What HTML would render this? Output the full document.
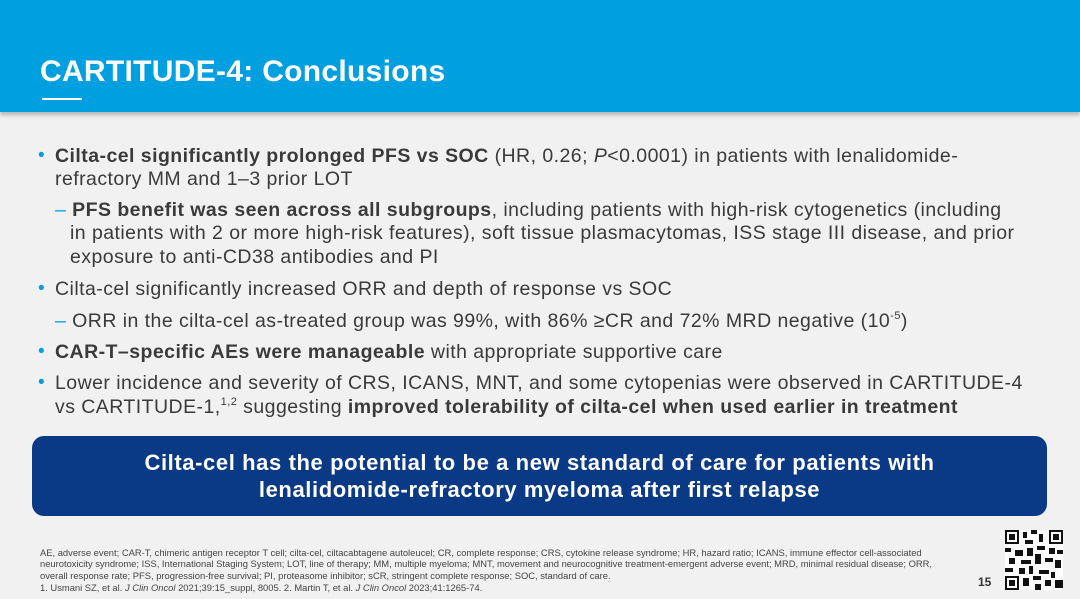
<!DOCTYPE html>
<html><head><meta charset="utf-8"><style>
*{margin:0;padding:0;box-sizing:border-box}
body{width:1080px;height:599px;overflow:hidden;background:#f1f1f1;font-family:"Liberation Sans",sans-serif;color:#3a3a3a;position:relative}
#hdr{position:absolute;left:0;top:0;width:1080px;height:112px;background:#009fdf;box-shadow:0 3px 4px rgba(0,0,0,0.25)}
#title{position:absolute;left:40px;top:55px;font-size:30px;font-weight:bold;color:#fff;letter-spacing:0.3px}
#uline{position:absolute;left:42px;top:98px;width:40px;height:2px;background:#fff}
.l{position:absolute;white-space:nowrap;font-size:19.5px;line-height:23px;letter-spacing:0.45px}
.b{color:#009fdf;position:absolute;font-size:19px}
sup{font-size:11px;line-height:0;position:relative;top:-1px}
#box{position:absolute;left:32px;top:436px;width:1015px;height:80px;background:#0a3a86;border-radius:12px;color:#fff;font-weight:bold;font-size:22px;letter-spacing:0.6px;line-height:27px;text-align:center;padding-top:13px}
.f{position:absolute;left:40px;white-space:nowrap;font-size:9.4px;color:#444}
#pg{position:absolute;left:978px;top:575px;font-size:12px;font-weight:bold;color:#333}
#qr{position:absolute;left:1005px;top:530px}
</style></head><body>
<div id="hdr"></div>
<div id="title">CARTITUDE-4: Conclusions</div>
<div id="uline"></div>

<div class="b" style="left:38px;top:145px">•</div>
<div class="l" style="left:55px;top:145px"><b>Cilta-cel significantly prolonged PFS vs SOC</b> (HR, 0.26; <i>P</i>&lt;0.0001) in patients with lenalidomide-</div>
<div class="l" style="left:55px;top:168px">refractory MM and 1–3 prior LOT</div>
<div class="l" style="left:55px;top:199px"><span style="color:#009fdf">–</span> <b>PFS benefit was seen across all subgroups</b>, including patients with high-risk cytogenetics (including</div>
<div class="l" style="left:70px;top:222px">in patients with 2 or more high-risk features), soft tissue plasmacytomas, ISS stage III disease, and prior</div>
<div class="l" style="left:70px;top:246px">exposure to anti-CD38 antibodies and PI</div>
<div class="b" style="left:38px;top:278px">•</div>
<div class="l" style="left:55px;top:278px">Cilta-cel significantly increased ORR and depth of response vs SOC</div>
<div class="l" style="left:55px;top:310px"><span style="color:#009fdf">–</span> ORR in the cilta-cel as-treated group was 99%, with 86% ≥CR and 72% MRD negative (10<sup>-5</sup>)</div>
<div class="b" style="left:38px;top:341px">•</div>
<div class="l" style="left:55px;top:341px"><b>CAR-T–specific AEs were manageable</b> with appropriate supportive care</div>
<div class="b" style="left:38px;top:372px">•</div>
<div class="l" style="left:55px;top:372px">Lower incidence and severity of CRS, ICANS, MNT, and some cytopenias were observed in CARTITUDE-4</div>
<div class="l" style="left:55px;top:396px">vs CARTITUDE-1,<sup>1,2</sup> suggesting <b>improved tolerability of cilta-cel when used earlier in treatment</b></div>

<div id="box">Cilta-cel has the potential to be a new standard of care for patients with<br>lenalidomide-refractory myeloma after first relapse</div>

<div class="f" style="top:547px">AE, adverse event; CAR-T, chimeric antigen receptor T cell; cilta-cel, ciltacabtagene autoleucel; CR, complete response; CRS, cytokine release syndrome; HR, hazard ratio; ICANS, immune effector cell-associated</div>
<div class="f" style="top:558px">neurotoxicity syndrome; ISS, International Staging System; LOT, line of therapy; MM, multiple myeloma; MNT, movement and neurocognitive treatment-emergent adverse event; MRD, minimal residual disease; ORR,</div>
<div class="f" style="top:570px">overall response rate; PFS, progression-free survival; PI, proteasome inhibitor; sCR, stringent complete response; SOC, standard of care.</div>
<div class="f" style="top:582px">1. Usmani SZ, et al. <i>J Clin Oncol</i> 2021;39:15_suppl, 8005. 2. Martin T, et al. <i>J Clin Oncol</i> 2023;41:1265-74.</div>
<div id="pg">15</div>
<svg id="qr" width="58" height="60" viewBox="0 0 29 30">
<rect width="29" height="30" fill="#fff"/>
<g fill="#111">
<rect x="0" y="0" width="7" height="7"/><rect x="1" y="1" width="5" height="5" fill="#fff"/><rect x="2" y="2" width="3" height="3"/>
<rect x="22" y="0" width="7" height="7"/><rect x="23" y="1" width="5" height="5" fill="#fff"/><rect x="24" y="2" width="3" height="3"/>
<rect x="0" y="23" width="7" height="7"/><rect x="1" y="24" width="5" height="5" fill="#fff"/><rect x="2" y="25" width="3" height="3"/>
<rect x="9" y="1" width="2" height="3"/><rect x="13" y="0" width="3" height="2"/><rect x="17" y="2" width="2" height="4"/><rect x="10" y="5" width="4" height="2"/>
<rect x="0" y="9" width="3" height="2"/><rect x="5" y="10" width="4" height="3"/><rect x="11" y="9" width="3" height="4"/><rect x="16" y="8" width="4" height="2"/><rect x="22" y="9" width="3" height="3"/><rect x="26" y="10" width="3" height="2"/>
<rect x="2" y="14" width="3" height="3"/><rect x="8" y="15" width="5" height="2"/><rect x="15" y="12" width="3" height="5"/><rect x="20" y="14" width="4" height="2"/><rect x="25" y="15" width="3" height="4"/>
<rect x="0" y="19" width="4" height="2"/><rect x="7" y="19" width="3" height="3"/><rect x="12" y="18" width="2" height="4"/><rect x="17" y="20" width="5" height="2"/><rect x="23" y="21" width="2" height="3"/>
<rect x="9" y="24" width="3" height="4"/><rect x="14" y="23" width="4" height="2"/><rect x="20" y="25" width="3" height="3"/><rect x="25" y="25" width="4" height="4"/><rect x="15" y="27" width="3" height="3"/>
</g></svg>
</body></html>
